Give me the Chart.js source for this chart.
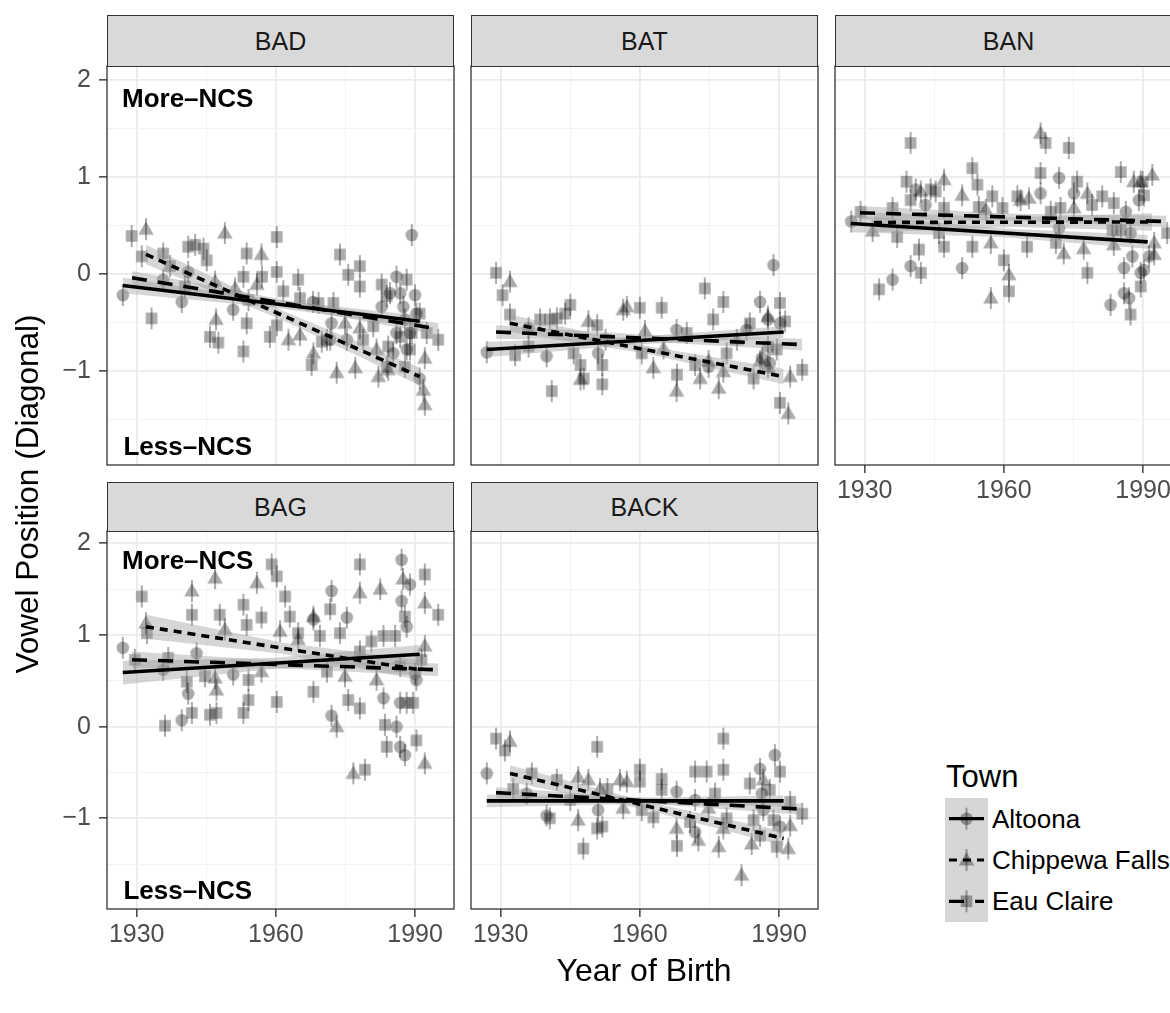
<!DOCTYPE html>
<html><head><meta charset="utf-8">
<script src="https://cdn.jsdelivr.net/npm/chart.js@4.4.1/dist/chart.umd.min.js"></script>
<style>
html,body{margin:0;padding:0;background:#fff;}
body{width:1170px;height:1013px;overflow:hidden;position:relative;font-family:'Liberation Sans',Arial,Helvetica,sans-serif;}
.strip{position:absolute;box-sizing:border-box;background:#d9d9d9;border:1.3px solid #333;color:#1a1a1a;font-size:25px;display:flex;align-items:center;justify-content:center;}
canvas{position:absolute;}
.txt{position:absolute;white-space:nowrap;color:#000;}
</style></head><body>
<script>
// ---------------- DATA ----------------
const vowels = ['BAD','BAT','BAN','BAG','BACK'];
const towns = ['Altoona','Chippewa Falls','Eau Claire'];
const xMajor = [1930, 1960, 1990];
const xMinor = [1945, 1975];
const yMajor = [-1, 0, 1, 2];
const yMinor = [-1.5, -0.5, 0.5, 1.5];
const ncsText = ['More\u2013NCS', 'Less\u2013NCS'];
const ncsX = [1941, 1941];
const ncsY = [1.8, -1.8];

// points: [year of birth, vowel position]
const BAD_Altoona = [[1927,-0.22],[1939.7,-0.29],[1941.1,0.02],[1935.7,-0.06],[1950.8,-0.37],[1972,-0.51],[1975.3,-0.68],[1968,-0.29],[1989.3,0.40],[1986,-0.03],[1982.8,-0.34],[1986.8,-0.20],[1990,-0.22],[1987.8,-0.47],[1986,-0.61],[1988.2,-0.78],[1991,-1.08],[1985.3,-0.82],[1987.5,-0.34],[1988.9,-0.61],[1984.6,-0.20],[1990.3,-0.41],[1971.7,-0.68]];
const BAD_Chippewa = [[1932,0.46],[1949,0.42],[1956.9,0.20],[1946.9,-0.08],[1951.2,-0.15],[1955.9,-0.11],[1947.1,-0.47],[1962.7,-0.68],[1965.2,-0.63],[1968.1,-0.82],[1973.1,-1.02],[1977.1,-0.97],[1974.9,-0.51],[1978.1,-0.56],[1982.1,-1.06],[1984.2,-0.99],[1992.1,-0.87],[1991.8,-1.20],[1992.1,-1.35],[1981.7,-0.78]];
const BAD_EauClaire = [[1928.9,0.39],[1931.1,0.18],[1933.2,-0.46],[1935.7,0.21],[1937.2,0.08],[1941.1,0.28],[1942.6,0.30],[1944.4,0.26],[1945.1,0.14],[1940.4,-0.13],[1945.8,-0.65],[1947.6,-0.71],[1953,-0.80],[1953.7,0.21],[1953.7,-0.51],[1953,-0.03],[1954.1,-0.27],[1957,-0.03],[1960.2,0.38],[1960.2,0.02],[1958.7,-0.65],[1960.2,-0.53],[1961.6,-0.18],[1964.8,-0.06],[1965.2,-0.25],[1969.9,-0.70],[1971,-0.68],[1969.2,-0.30],[1972.4,-0.30],[1973.8,0.20],[1975.6,-0.01],[1978.1,0.08],[1978.1,-0.13],[1978.8,-0.68],[1981,-0.54],[1982.8,-0.11],[1983.9,-0.23],[1988.2,-0.06],[1991,-0.41],[1989.3,-0.61],[1992.5,-0.61],[1995,-0.68],[1984.2,-0.75],[1986.8,-0.65],[1988.9,-0.78],[1987.8,-0.96],[1983.9,-0.96],[1967.7,-0.94]];

const BAT_Altoona = [[1927,-0.81],[1936,-0.56],[1939.9,-0.85],[1951,-0.82],[1967.9,-0.58],[1974.8,-0.96],[1988.8,0.09],[1985.9,-0.29],[1986.3,-0.87],[1988,-0.92],[1990.2,-0.51],[1983,-0.58],[1987.6,-0.47]];
const BAT_Chippewa = [[1932,-0.08],[1948.9,-0.49],[1947.2,-1.09],[1956.4,-0.37],[1957.2,-0.34],[1961.1,-0.59],[1962.9,-0.97],[1965.1,-0.77],[1967.9,-1.21],[1973,-1.08],[1974.8,-0.90],[1977,-1.18],[1978,-1.01],[1985.9,-0.90],[1992,-1.44],[1992.4,-1.06],[1987.6,-0.96],[1987.6,-0.44],[1980.9,-0.68]];
const BAT_EauClaire = [[1929,0.01],[1930.4,-0.22],[1932,-0.42],[1933.1,-0.84],[1936,-0.75],[1938.5,-0.47],[1940.6,-0.47],[1942.1,-0.46],[1943.9,-0.41],[1945,-0.32],[1941,-1.21],[1945.7,-0.82],[1947.2,-0.94],[1947.9,-1.08],[1950.8,-0.53],[1951.9,-0.94],[1951.9,-1.14],[1952.6,-0.68],[1960,-0.35],[1960.4,-0.82],[1964.7,-0.35],[1970.1,-0.61],[1971.9,-0.94],[1968,-1.04],[1974,-0.15],[1978,-0.29],[1975.8,-0.47],[1978.7,-0.82],[1984.5,-1.08],[1983.7,-0.51],[1990.2,-0.30],[1991.3,-0.49],[1990.2,-1.33],[1995,-0.99],[1987.6,-0.75],[1989.5,-0.78]];

const BAN_Altoona = [[1927.1,0.54],[1936,-0.06],[1939.9,0.08],[1941,0.87],[1943.1,0.71],[1951,0.06],[1967.9,0.83],[1971.9,0.99],[1975.1,0.83],[1971.9,0.47],[1983,-0.32],[1985.9,0.06],[1985.9,-0.20],[1987,-0.25],[1987.7,0.18],[1989.1,0.76],[1989.5,0.01],[1990.2,0.04],[1991.3,0.18],[1987.3,0.42],[1986.3,0.64]];
const BAN_Chippewa = [[1931.7,0.44],[1942.1,0.85],[1947.1,0.97],[1951,0.81],[1956.1,0.66],[1957.2,0.32],[1957.2,-0.25],[1961.1,-0.01],[1963.6,0.76],[1965.4,0.78],[1967.9,1.45],[1972.9,0.21],[1975.1,0.68],[1977.2,0.26],[1978,0.83],[1983.7,0.30],[1988,0.95],[1992,1.02],[1992.4,0.32],[1992.4,0.20],[1989.5,0.95]];
const BAN_EauClaire = [[1929.1,0.64],[1933.1,-0.16],[1937,0.38],[1936,0.68],[1939,0.95],[1939.9,1.35],[1939.9,0.76],[1941.7,0.25],[1942.1,0.01],[1944.2,0.87],[1945.3,0.85],[1946,0.42],[1947.1,0.68],[1947.1,0.28],[1953.2,1.09],[1953.2,0.28],[1954.3,0.92],[1954.6,0.69],[1957.5,0.80],[1959.7,0.68],[1960,0.14],[1961.1,-0.18],[1962.9,0.80],[1965,0.28],[1967.9,1.04],[1969,1.35],[1970.1,0.64],[1971.2,0.32],[1972.2,0.68],[1974,1.30],[1975.8,0.95],[1978,0.01],[1979,0.71],[1981.2,0.80],[1983.7,0.73],[1983.4,0.45],[1985.2,1.05],[1987.3,-0.42],[1989.5,-0.13],[1989.9,0.95],[1990.2,0.81],[1995.2,0.42],[1985.2,0.45]];

const BAG_Altoona = [[1927,0.86],[1942.9,0.80],[1941.1,0.36],[1939.7,0.07],[1935.7,0.62],[1950.8,0.57],[1968.1,1.17],[1972,1.48],[1975.3,1.19],[1972,0.12],[1987.1,1.82],[1988.9,1.55],[1987.1,1.37],[1988.2,1.09],[1983.2,0.31],[1986,0.00],[1986.8,-0.22],[1987.8,-0.31],[1990,0.58],[1986.8,0.26],[1990.3,0.51]];
const BAG_Chippewa = [[1932,1.13],[1941.9,1.48],[1946.9,1.62],[1955.9,1.57],[1949,1.06],[1946.9,0.53],[1947.2,0.40],[1960.9,1.04],[1964.8,0.95],[1968.1,1.20],[1956.9,0.60],[1973.1,0.00],[1974.9,0.55],[1978.1,1.46],[1976.7,-0.51],[1982.5,1.50],[1987.4,1.61],[1981.7,0.51],[1992.1,1.35],[1992.1,0.88],[1992.1,-0.40]];
const BAG_EauClaire = [[1929.6,0.73],[1931.1,1.42],[1932.2,1.02],[1936.1,0.01],[1936.8,0.75],[1941.9,1.22],[1941.9,0.15],[1940.8,0.49],[1944.7,0.55],[1945.8,0.13],[1947.2,0.15],[1947.9,1.22],[1953,1.33],[1953.7,1.11],[1953,0.15],[1954.1,0.29],[1954.1,0.51],[1956.9,1.19],[1959.1,1.77],[1960.2,1.64],[1962,1.42],[1963,1.20],[1960.2,0.27],[1964.8,1.02],[1969.5,0.99],[1968.1,0.38],[1971.7,1.28],[1973.8,1.02],[1971,0.60],[1975.6,0.29],[1978.1,1.77],[1978.1,0.20],[1979.2,-0.47],[1978.1,0.82],[1980.6,0.93],[1983.2,0.99],[1985.7,0.99],[1983.5,0.02],[1983.9,-0.22],[1987.8,1.20],[1988.2,0.26],[1989.6,0.26],[1990.3,-0.15],[1992.1,1.66],[1995,1.22],[1986.8,0.66],[1991.4,0.73]];

const BACK_Altoona = [[1927,-0.51],[1935.6,-0.73],[1939.9,-0.97],[1951,-0.91],[1967.9,-0.71],[1971.9,-0.80],[1971.9,-1.15],[1989.1,-0.31],[1985.9,-0.46],[1986.6,-0.91],[1990.2,-1.09],[1986.3,-0.73]];
const BACK_Chippewa = [[1932,-0.16],[1946.7,-0.55],[1948.9,-0.58],[1951.4,-0.68],[1946.7,-1.02],[1955.7,-0.58],[1956.4,-0.89],[1967.9,-1.11],[1972.6,-1.24],[1974.8,-0.89],[1977,-1.31],[1978,-1.11],[1981.9,-1.62],[1984.1,-1.28],[1992,-1.33],[1992.4,-1.08],[1986.6,-0.58],[1957.2,-0.60]];
const BACK_EauClaire = [[1929,-0.13],[1930.9,-0.26],[1932.7,-0.68],[1936.7,-0.51],[1942.1,-0.58],[1940.6,-1.00],[1945,-0.80],[1947.8,-1.33],[1950.8,-0.22],[1950.8,-1.11],[1951.9,-1.09],[1953,-0.68],[1960,-0.47],[1960,-0.60],[1960.4,-0.91],[1964.7,-0.57],[1964.7,-0.69],[1962.9,-0.99],[1968,-1.30],[1971.9,-0.49],[1974.4,-0.49],[1970.8,-1.04],[1976.2,-0.73],[1978,-0.47],[1978,-0.13],[1978.7,-1.00],[1983.7,-0.62],[1984.5,-1.02],[1988,-0.69],[1990.2,-0.49],[1992.4,-0.82],[1995,-0.95],[1989.5,-1.31],[1985.9,-1.19],[1988.8,-1.02]];

// linear fits per town: [x start, y start, x end, y end]
const BAD_fits  = [[1927,-0.12,1991,-0.49],[1932,0.20,1991,-1.06],[1929,-0.04,1995,-0.57]];
const BAT_fits  = [[1927,-0.78,1991,-0.60],[1932,-0.51,1991,-1.06],[1929,-0.60,1995,-0.73]];
const BAN_fits  = [[1927,0.52,1991,0.33],[1932,0.53,1992,0.535],[1929,0.63,1995,0.54]];
const BAG_fits  = [[1927,0.59,1991,0.79],[1932,1.09,1991,0.62],[1929,0.73,1995,0.62]];
const BACK_fits = [[1927,-0.81,1991,-0.81],[1932,-0.51,1991,-1.22],[1929,-0.72,1995,-0.90]];
// confidence band half-widths at start, middle, end
const BAD_bands  = [[0.08,0.04,0.06],[0.10,0.05,0.09],[0.07,0.035,0.06]];
const BAT_bands  = [[0.08,0.04,0.06],[0.09,0.04,0.08],[0.07,0.035,0.06]];
const BAN_bands  = [[0.09,0.045,0.07],[0.10,0.05,0.09],[0.07,0.035,0.06]];
const BAG_bands  = [[0.13,0.06,0.10],[0.13,0.06,0.11],[0.09,0.04,0.07]];
const BACK_bands = [[0.07,0.035,0.06],[0.09,0.045,0.08],[0.06,0.03,0.06]];

// ---------------- LAYOUT / STYLE ----------------
const FONT = "'Liberation Sans', Arial, Helvetica, sans-serif";
const COLS = [[107,454],[471,818],[835,1182]];
const ROWS = [[66,465,15],[531,909,482]];
const YLIM = [[-1.972,2.144],[-1.989,2.134]];
const XLIM = [1923.6,1998.4];
const PADL = 100, PADR = 12, PADT = 24, PADB = 50;
const DASHES = [[], [8,6], [15,11]];
const MARK_ALPHA = 'rgba(0,0,0,0.33)';

const pointsBy = {
  BAD:[BAD_Altoona,BAD_Chippewa,BAD_EauClaire],
  BAT:[BAT_Altoona,BAT_Chippewa,BAT_EauClaire],
  BAN:[BAN_Altoona,BAN_Chippewa,BAN_EauClaire],
  BAG:[BAG_Altoona,BAG_Chippewa,BAG_EauClaire],
  BACK:[BACK_Altoona,BACK_Chippewa,BACK_EauClaire]};
const fitsBy = {BAD:BAD_fits,BAT:BAT_fits,BAN:BAN_fits,BAG:BAG_fits,BACK:BACK_fits};
const bandsBy = {BAD:BAD_bands,BAT:BAT_bands,BAN:BAN_bands,BAG:BAG_bands,BACK:BACK_bands};

const panels = [
  {v:'BAD', col:0,row:0, showY:true,  showX:false, ncs:true},
  {v:'BAT', col:1,row:0, showY:false, showX:false, ncs:false},
  {v:'BAN', col:2,row:0, showY:false, showX:true,  ncs:false},
  {v:'BAG', col:0,row:1, showY:true,  showX:true,  ncs:true},
  {v:'BACK',col:1,row:1, showY:false, showX:true,  ncs:false}];

function drawShape(g, shape, cx, cy){
  g.fillStyle = MARK_ALPHA;
  g.beginPath();
  if (shape === 0) { g.arc(cx, cy, 6.3, 0, Math.PI*2); }
  else if (shape === 1) { g.moveTo(cx, cy-8); g.lineTo(cx+7.8, cy+5.5); g.lineTo(cx-7.8, cy+5.5); g.closePath(); }
  else { g.rect(cx-5.8, cy-5.8, 11.6, 11.6); }
  g.fill();
  g.fillRect(cx-1, cy-11, 2, 22);
}
function makeMarker(shape){
  const c = document.createElement('canvas');
  c.width = 18; c.height = 26;
  drawShape(c.getContext('2d'), shape, 9, 13);
  return c;
}
const markers = [makeMarker(0), makeMarker(1), makeMarker(2)];

const framePlugin = {
  id:'frame',
  afterDatasetsDraw(chart, args, opts){
    const {ctx, chartArea:a, scales} = chart;
    ctx.save();
    if (opts.ncs) {
      ctx.font = 'bold 26px ' + FONT;
      ctx.fillStyle = '#000';
      ctx.textAlign = 'center';
      ctx.textBaseline = 'middle';
      for (let i = 0; i < ncsText.length; i++) {
        ctx.fillText(ncsText[i], scales.x.getPixelForValue(ncsX[i]), scales.y.getPixelForValue(ncsY[i]));
      }
    }
    ctx.strokeStyle = '#333';
    ctx.lineWidth = 1.3;
    ctx.strokeRect(a.left, a.top, a.right - a.left, a.bottom - a.top);
    ctx.restore();
  }
};

function el(tag, cls, style, text){
  const e = document.createElement(tag);
  if (cls) e.className = cls;
  Object.assign(e.style, style);
  if (text !== undefined) e.textContent = text;
  document.body.appendChild(e);
  return e;
}

const isMajorX = v => xMajor.includes(v);
const isMajorY = v => yMajor.includes(v);

panels.forEach(p => {
  const [L, R] = COLS[p.col];
  const [T, B, ST] = ROWS[p.row];
  const cv = el('canvas', null, {left:(L-PADL)+'px', top:(T-PADT)+'px'});
  cv.width = (R-L) + PADL + PADR;
  cv.height = (B-T) + PADT + PADB;
  cv.style.width = cv.width + 'px';
  cv.style.height = cv.height + 'px';
  // strip (on top of canvas padding)
  el('div','strip',{left:L+'px', top:ST+'px', width:(R-L)+'px', height:(T-ST+1)+'px'}, p.v);

  const datasets = [];
  const pts = pointsBy[p.v], fits = fitsBy[p.v], bands = bandsBy[p.v];
  for (let t = 0; t < 3; t++) {
    const f = fits[t], w = bands[t];
    const xs = [f[0], (f[0]+f[2])/2, f[2]];
    const ys = [f[1], (f[1]+f[3])/2, f[3]];
    datasets.push({label:towns[t]+' hi', data:xs.map((x,i)=>({x, y:ys[i]+w[i]})), borderWidth:0, pointRadius:0, fill:false, order:2, tension:0});
    datasets.push({label:towns[t]+' lo', data:xs.map((x,i)=>({x, y:ys[i]-w[i]})), borderWidth:0, pointRadius:0, fill:'-1', backgroundColor:'rgba(153,153,153,0.4)', order:2, tension:0});
  }
  for (let t = 0; t < 3; t++) {
    const f = fits[t];
    datasets.push({label:towns[t]+' fit', data:[{x:f[0],y:f[1]},{x:f[2],y:f[3]}], borderColor:'#000', borderWidth:3.6, borderDash:DASHES[t], borderCapStyle:'butt', pointRadius:0, fill:false, order:1});
  }
  for (let t = 0; t < 3; t++) {
    datasets.push({label:towns[t], data:pts[t].map(([x,y])=>({x,y})), showLine:false, pointStyle:markers[t], pointRadius:6, order:3, fill:false});
  }

  new Chart(cv, {
    type:'line',
    data:{datasets},
    plugins:[framePlugin],
    options:{
      responsive:false, animation:false, events:[],
      layout:{padding:{left:0, right:PADR, top:PADT, bottom:0}},
      plugins:{legend:{display:false}, tooltip:{enabled:false}, frame:{ncs:p.ncs}},
      scales:{
        x:{type:'linear', min:XLIM[0], max:XLIM[1],
          afterBuildTicks: s => { s.ticks = xMajor.concat(xMinor).sort((a,b)=>a-b).map(v=>({value:v})); },
          afterFit: s => { s.height = PADB; },
          border:{display:false},
          grid:{color: c => isMajorX(c.tick && c.tick.value) ? '#ebebeb' : '#f2f2f2',
                lineWidth: c => isMajorX(c.tick && c.tick.value) ? 1.7 : 0.9,
                drawTicks:p.showX, tickLength:8, tickWidth:1.4,
                tickColor: c => isMajorX(c.tick && c.tick.value) ? '#333' : 'rgba(0,0,0,0)'},
          ticks:{display:p.showX, autoSkip:false, maxRotation:0, padding:3, color:'#4d4d4d',
                 font:{family:FONT, size:25},
                 callback: v => isMajorX(v) ? String(v) : ''}
        },
        y:{type:'linear', min:YLIM[p.row][0], max:YLIM[p.row][1],
          afterBuildTicks: s => { s.ticks = yMajor.concat(yMinor).sort((a,b)=>a-b).map(v=>({value:v})); },
          afterFit: s => { s.width = PADL; },
          border:{display:false},
          grid:{color: c => isMajorY(c.tick && c.tick.value) ? '#ebebeb' : '#f2f2f2',
                lineWidth: c => isMajorY(c.tick && c.tick.value) ? 1.7 : 0.9,
                drawTicks:p.showY, tickLength:8, tickWidth:1.4,
                tickColor: c => isMajorY(c.tick && c.tick.value) ? '#333' : 'rgba(0,0,0,0)'},
          ticks:{display:p.showY, autoSkip:false, padding:8, color:'#4d4d4d',
                 font:{family:FONT, size:25},
                 callback: v => isMajorY(v) ? (v < 0 ? '\u2212' + Math.abs(v) : String(v)) : ''}
        }
      }
    }
  });
});

// axis titles
el('div','txt',{left:'344px', width:'600px', textAlign:'center', top:'952px', fontSize:'32px', lineHeight:'36px'}, 'Year of Birth');
el('div','txt',{left:'-273px', width:'600px', textAlign:'center', top:'476px', height:'36px', fontSize:'31.5px', lineHeight:'36px', transform:'rotate(-90deg)'}, 'Vowel Position (Diagonal)');

// legend
el('div','txt',{left:'946px', top:'759px', fontSize:'31px', lineHeight:'36px'}, 'Town');
const lg = el('canvas', null, {left:'945px', top:'798px'});
lg.width = 43; lg.height = 124;
const g = lg.getContext('2d');
g.fillStyle = '#d6d6d6';
g.fillRect(0,0,43,124);
const keyC = [20.7, 62, 103.3];
towns.forEach((t,i) => {
  drawShape(g, i, 21.5, keyC[i]);
  g.strokeStyle = '#000'; g.lineWidth = 3.2; g.lineCap = 'butt';
  g.setLineDash(DASHES[i]);
  g.beginPath(); g.moveTo(4, keyC[i]); g.lineTo(39, keyC[i]); g.stroke();
  el('div','txt',{left:'992px', top:(798 + keyC[i] - 18)+'px', fontSize:'26px', lineHeight:'36px'}, t);
});
</script>
</body></html>
